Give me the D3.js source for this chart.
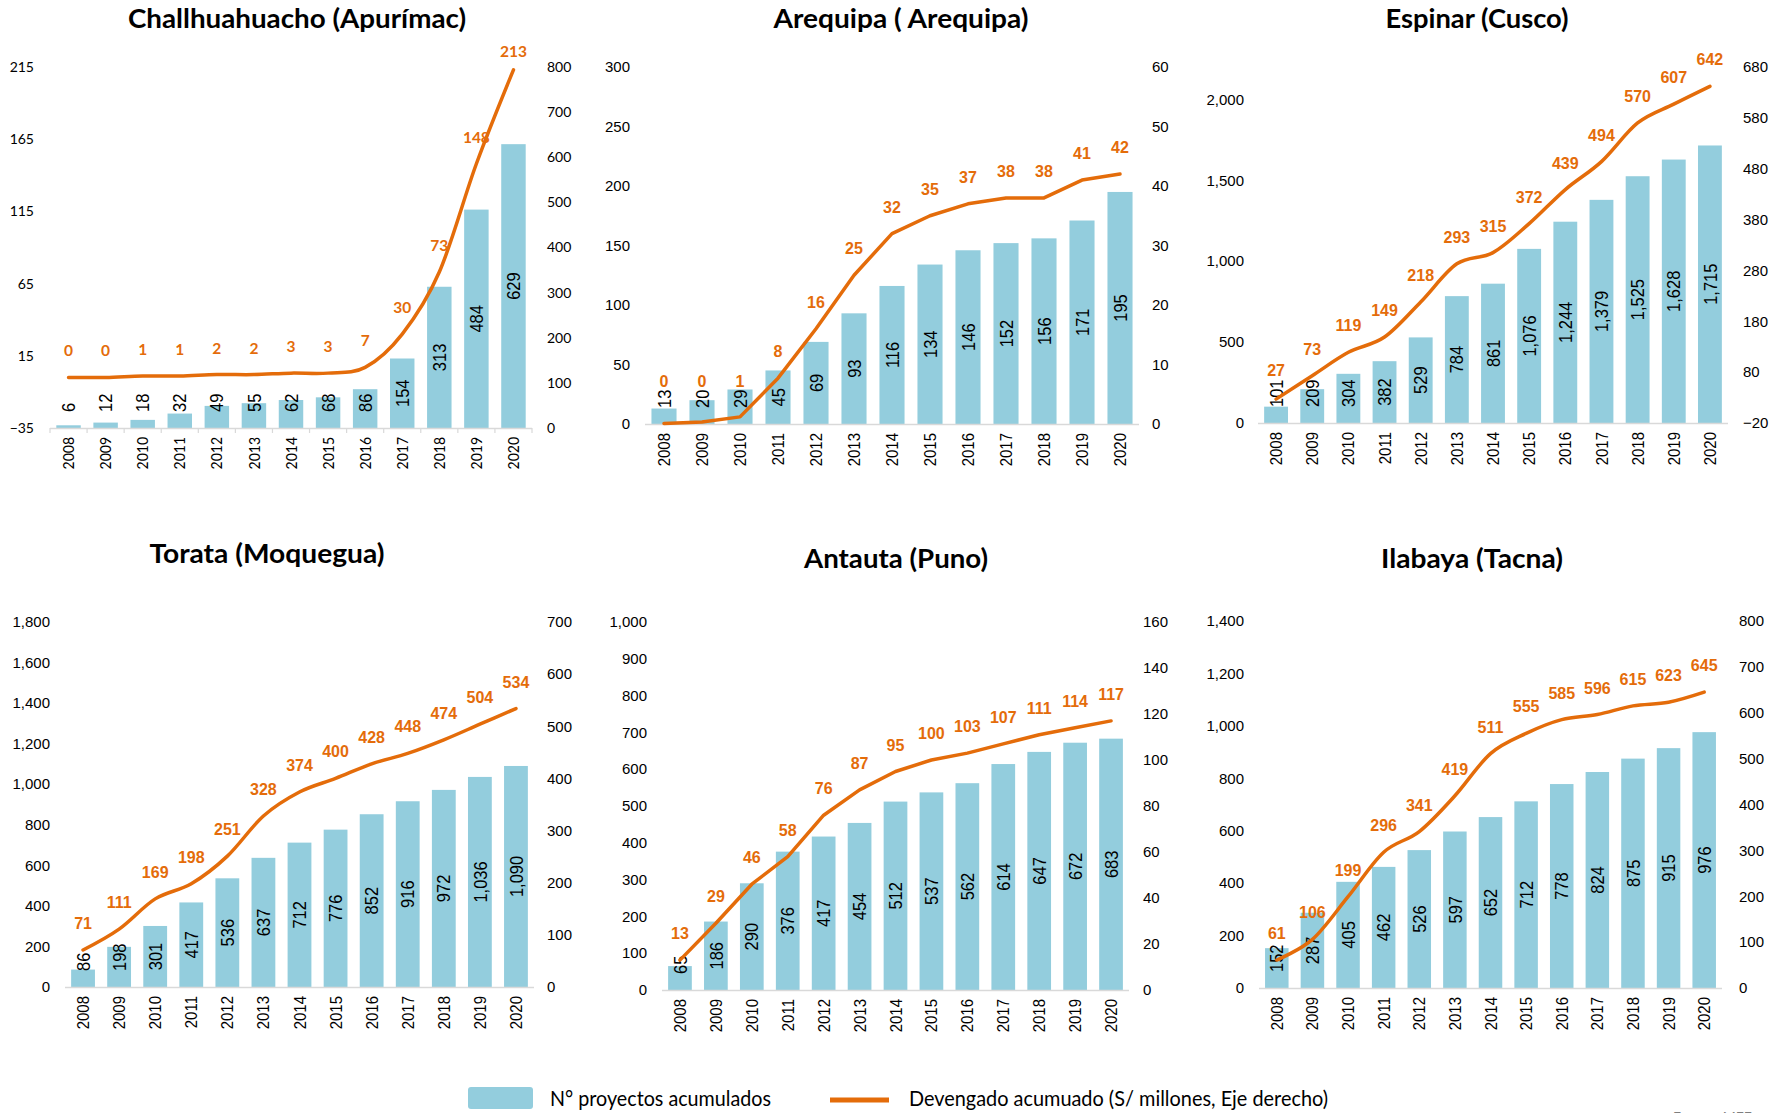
<!DOCTYPE html>
<html>
<head>
<meta charset="utf-8">
<script src="https://cdn.jsdelivr.net/npm/d3@7"></script>
<style>
body { margin: 0; background: #fff; }
</style>
</head>
<body>
<svg id="canvas" width="1791" height="1113"></svg>
<script>

//Categories
var years = ["2008","2009","2010","2011","2012","2013","2014","2015","2016","2017","2018","2019","2020"];

//N° proyectos acumulados (bars)
var challBars = [6,12,18,32,49,55,62,68,86,154,313,484,629];
var arequipaBars = [13,20,29,45,69,93,116,134,146,152,156,171,195];
var espinarBars = [101,209,304,382,529,784,861,1076,1244,1379,1525,1628,1715];
var torataBars = [86,198,301,417,536,637,712,776,852,916,972,1036,1090];
var antautaBars = [65,186,290,376,417,454,512,537,562,614,647,672,683];
var ilabayaBars = [152,287,405,462,526,597,652,712,778,824,875,915,976];

//Devengado acumulado, S/ millones (line)
var challLine = [0,0,1,1,2,2,3,3,7,30,73,148,213];
var arequipaLine = [0.1,0.35,1.2,7.7,16,25,32,35,37,38,38,41,42];
var espinarLine = [27,73,119,149,218,293,315,372,439,494,570,607,642];
var torataLine = [71,111,169,198,251,328,374,400,428,448,474,504,534];
var antautaLine = [13,29,46,58,76,87,95,100,103,107,111,114,117];
var ilabayaLine = [61,106,199,296,341,419,511,555,585,596,615,623,645];

//Axis ticks
var challBarTicks = [0,100,200,300,400,500,600,700,800];
var challLineTicks = [-35,15,65,115,165,215];
var arequipaBarTicks = [0,50,100,150,200,250,300];
var arequipaLineTicks = [0,10,20,30,40,50,60];
var espinarBarTicks = [0,500,1000,1500,2000];
var espinarLineTicks = [-20,80,180,280,380,480,580,680];
var torataBarTicks = [0,200,400,600,800,1000,1200,1400,1600,1800];
var torataLineTicks = [0,100,200,300,400,500,600,700];
var antautaBarTicks = [0,100,200,300,400,500,600,700,800,900,1000];
var antautaLineTicks = [0,20,40,60,80,100,120,140,160];
var ilabayaBarTicks = [0,200,400,600,800,1000,1200,1400];
var ilabayaLineTicks = [0,100,200,300,400,500,600,700,800];

var legendLabels = ["N° proyectos acumulados","Devengado acumuado (S/ millones, Eje derecho)"];

var BAR = "#93CDDD";
var ORANGE = "#E46C0A";
var ARIAL = "'Liberation Sans', Arial, sans-serif";
var CALIBRI = "Lato, 'Open Sans', sans-serif";
var FAT = 1.15; //rotated labels look wider than tall in the source

var svg = d3.select("#canvas");

var panels = [
    {title:"Challhuahuacho (Apurímac)", bars:challBars, line:challLine,
     barDomain:[0,800], barTicks:challBarTicks, lineDomain:[-35,215], lineTicks:challLineTicks,
     barsRight:true, smooth:true, calibri:true, ticks:true,
     titleX:297, titleY:28, titleLen:338,
     x0:50, x1:532, yTop:67, yBot:428, leftX:34, rightX:547},
    {title:"Arequipa ( Arequipa)", bars:arequipaBars, line:arequipaLine,
     barDomain:[0,300], barTicks:arequipaBarTicks, lineDomain:[0,60], lineTicks:arequipaLineTicks,
     barsRight:false, smooth:false,
     titleX:901, titleY:28, titleLen:255,
     x0:645, x1:1139, yTop:67, yBot:424, leftX:630, rightX:1152},
    {title:"Espinar (Cusco)", bars:espinarBars, line:espinarLine,
     barDomain:[0,2200], barTicks:espinarBarTicks, lineDomain:[-20,680], lineTicks:espinarLineTicks,
     barsRight:false, smooth:true,
     titleX:1477, titleY:28, titleLen:183,
     x0:1258, x1:1728, yTop:67, yBot:423, leftX:1244, rightX:1743},
    {title:"Torata (Moquegua)", bars:torataBars, line:torataLine,
     barDomain:[0,1800], barTicks:torataBarTicks, lineDomain:[0,700], lineTicks:torataLineTicks,
     barsRight:false, smooth:true,
     titleX:267, titleY:563, titleLen:235,
     x0:65, x1:534, yTop:622, yBot:987, leftX:50, rightX:547},
    {title:"Antauta (Puno)", bars:antautaBars, line:antautaLine,
     barDomain:[0,1000], barTicks:antautaBarTicks, lineDomain:[0,160], lineTicks:antautaLineTicks,
     barsRight:false, smooth:false,
     titleX:896, titleY:568, titleLen:184,
     x0:662, x1:1129, yTop:622, yBot:990, leftX:647, rightX:1143},
    {title:"Ilabaya (Tacna)", bars:ilabayaBars, line:ilabayaLine,
     barDomain:[0,1400], barTicks:ilabayaBarTicks, lineDomain:[0,800], lineTicks:ilabayaLineTicks,
     barsRight:false, smooth:true,
     titleX:1472, titleY:568, titleLen:182,
     x0:1259, x1:1722, yTop:621, yBot:988, leftX:1244, rightX:1739}
];

panels.forEach(drawPanel);
drawLegend();

//One combo chart (bars + line on twin axes)
function drawPanel(p) {
    var g = svg.append("g");
    var axisFont = p.calibri ? CALIBRI : ARIAL;
    var fmt = d3.format(",");

    var x = d3.scaleBand()
        .domain(years)
        .range([p.x0, p.x1])
        .paddingInner(0.34)
        .paddingOuter(0.17);

    var yBar = d3.scaleLinear().domain(p.barDomain).range([p.yBot, p.yTop]);
    var yLine = d3.scaleLinear().domain(p.lineDomain).range([p.yBot, p.yTop]);

    //Title
    g.append("text")
        .attr("x", p.titleX)
        .attr("y", p.titleY)
        .attr("text-anchor", "middle")
        .attr("textLength", p.titleLen)
        .attr("lengthAdjust", "spacingAndGlyphs")
        .style("font-family", CALIBRI)
        .style("font-weight", 700)
        .style("font-size", "27px")
        .style("fill", "#000")
        .text(p.title);

    //Axis tick labels (left and right)
    var leftTicks = p.barsRight ? p.lineTicks : p.barTicks;
    var rightTicks = p.barsRight ? p.barTicks : p.lineTicks;
    var yLeft = p.barsRight ? yLine : yBar;
    var yRight = p.barsRight ? yBar : yLine;
    var tickSize = p.calibri ? "14px" : "15px";

    g.selectAll(".ltick")
        .data(leftTicks)
        .enter()
        .append("text")
        .attr("x", p.leftX)
        .attr("y", d => yLeft(d))
        .attr("dy", "0.35em")
        .attr("text-anchor", "end")
        .style("font-family", axisFont)
        .style("font-size", tickSize)
        .style("fill", "#000")
        .text(d => fmt(d));

    g.selectAll(".rtick")
        .data(rightTicks)
        .enter()
        .append("text")
        .attr("x", p.rightX)
        .attr("y", d => yRight(d))
        .attr("dy", "0.35em")
        .attr("text-anchor", "start")
        .style("font-family", axisFont)
        .style("font-size", tickSize)
        .style("fill", "#000")
        .text(d => fmt(d));

    //Bars
    var rows = years.map(function(y, i) {
        return {year: y, bar: p.bars[i], line: p.line[i]};
    });

    g.selectAll(".bar")
        .data(rows)
        .enter()
        .append("rect")
        .attr("x", d => x(d.year))
        .attr("width", x.bandwidth())
        .attr("y", d => yBar(d.bar))
        .attr("height", d => p.yBot - yBar(d.bar))
        .style("fill", BAR);

    //Category axis line
    g.append("line")
        .attr("x1", p.x0)
        .attr("x2", p.x1)
        .attr("y1", p.yBot + 0.5)
        .attr("y2", p.yBot + 0.5)
        .style("stroke", "#D9D9D9")
        .style("stroke-width", 1.5);

    if (p.ticks) {
        var step = x.step();
        g.selectAll(".xtick")
            .data(d3.range(years.length + 1))
            .enter()
            .append("line")
            .attr("x1", i => p.x0 + i * step)
            .attr("x2", i => p.x0 + i * step)
            .attr("y1", p.yBot)
            .attr("y2", p.yBot + 5)
            .style("stroke", "#D9D9D9")
            .style("stroke-width", 1.2);
    }

    //Year labels
    g.selectAll(".year")
        .data(years)
        .enter()
        .append("text")
        .attr("transform", d => "translate(" + (x(d) + x.bandwidth() / 2) + "," + (p.yBot + 9) + ") scale(" + FAT + ",1) rotate(-90)")
        .attr("dy", "0.35em")
        .attr("text-anchor", "end")
        .style("font-family", axisFont)
        .style("font-size", p.calibri ? "14px" : "15px")
        .style("fill", "#000")
        .text(d => d);

    //Bar value labels (centered, pushed up above the axis when the bar is short)
    var barTop = {};
    g.selectAll(".blabel")
        .data(rows)
        .enter()
        .append("text")
        .style("font-family", ARIAL)
        .style("font-size", "16.5px")
        .style("fill", "#000")
        .attr("dy", "0.35em")
        .attr("text-anchor", "middle")
        .text(d => fmt(d.bar))
        .each(function(d) {
            var w = this.getComputedTextLength();
            var cx = x(d.year) + x.bandwidth() / 2;
            var cy = Math.min((yBar(d.bar) + p.yBot) / 2, p.yBot - 16 - w / 2);
            barTop[d.year] = [cy - w / 2, cy + w / 2];
            d3.select(this).attr("transform", "translate(" + cx + "," + cy + ") scale(" + FAT + ",1) rotate(-90)");
        });

    //Line
    var line = d3.line()
        .x(d => x(d.year) + x.bandwidth() / 2)
        .y(d => yLine(d.line))
        .curve(p.smooth ? d3.curveCardinal : d3.curveLinear);

    g.append("path")
        .datum(rows)
        .attr("d", line)
        .style("fill", "none")
        .style("stroke", ORANGE)
        .style("stroke-width", 3.5)
        .style("stroke-linecap", "round")
        .style("stroke-linejoin", "round");

    //Line value labels
    g.selectAll(".llabel")
        .data(rows)
        .enter()
        .append("text")
        .attr("x", d => x(d.year) + x.bandwidth() / 2)
        .attr("y", function(d) {
            var py = yLine(d.line);
            var base = py - 21;
            var bl = barTop[d.year];
            if (bl[0] < py + 10 && bl[1] > py - 30) {
                base = Math.min(base, bl[0] - 3);
            }
            return Math.max(base, p.yTop - 10);
        })
        .attr("text-anchor", "middle")
        .style("font-family", p.calibri ? CALIBRI : ARIAL)
        .style("font-weight", 700)
        .style("font-size", p.calibri ? "15.5px" : "16px")
        .style("fill", ORANGE)
        .text(d => fmt(Math.round(d.line)));
}

//Shared legend
function drawLegend() {
    var lg = svg.append("g");

    lg.append("rect")
        .attr("x", 468)
        .attr("y", 1087)
        .attr("width", 65)
        .attr("height", 22)
        .attr("rx", 3)
        .style("fill", BAR);

    lg.append("text")
        .attr("x", 550)
        .attr("y", 1106)
        .attr("textLength", 221)
        .attr("lengthAdjust", "spacingAndGlyphs")
        .style("font-family", CALIBRI)
        .style("font-size", "21px")
        .style("fill", "#000")
        .text(legendLabels[0]);

    lg.append("line")
        .attr("x1", 830)
        .attr("x2", 889)
        .attr("y1", 1100)
        .attr("y2", 1100)
        .style("stroke", ORANGE)
        .style("stroke-width", 5);

    lg.append("text")
        .attr("x", 909)
        .attr("y", 1106)
        .attr("textLength", 419)
        .attr("lengthAdjust", "spacingAndGlyphs")
        .style("font-family", CALIBRI)
        .style("font-size", "21px")
        .style("fill", "#000")
        .text(legendLabels[1]);

    lg.append("text")
        .attr("x", 1673)
        .attr("y", 1122)
        .style("font-family", CALIBRI)
        .style("font-size", "14px")
        .style("fill", "#7F7F7F")
        .text("Fuente: MEF");
}
</script>
</body>
</html>
